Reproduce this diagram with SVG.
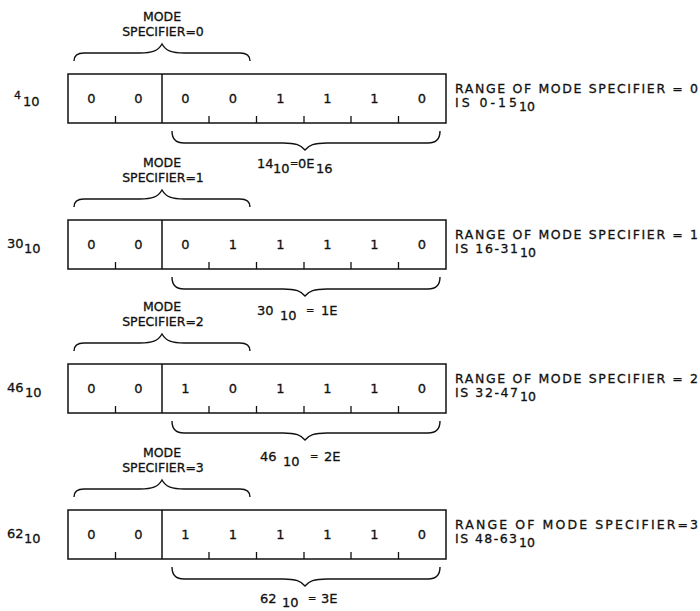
<svg xmlns="http://www.w3.org/2000/svg" xmlns:xlink="http://www.w3.org/1999/xlink" width="700" height="611" viewBox="0 0 700 611">
<style>
.box{fill:none;stroke:#111;stroke-width:1.5}
.tick{stroke:#111;stroke-width:1.3}
.brace{fill:none;stroke:#111;stroke-width:1.4}
text{font-family:"DejaVu Sans","Liberation Sans",sans-serif;fill:#111;stroke:#111;stroke-width:0.3}
.d{font-size:13px;text-anchor:middle}
.l{font-size:13px}
.r{font-size:12.5px}
.m{font-size:12.5px;text-anchor:middle}
.eq{font-size:10px}
</style>
<defs>
<g id="frame">
<rect class="box" x="68" y="0" width="378" height="49"/>
<line class="box" x1="162" y1="0" x2="162" y2="49"/>
<path class="tick" d="M115.5,42V49M209,42V49M256.5,42V49M304,42V49M351,42V49M398.5,42V49"/>
</g>
<path id="topBrace" class="brace" d="M74,-13 Q74,-21 84,-21 L140,-21 C152,-21 158,-23 162,-30 C166,-23 172,-21 184,-21 L240,-21 Q250,-21 250,-13"/>
<path id="botBrace" class="brace" d="M172,8 Q172,20 184,20 L283,20 C296,20 301,22 305,27 C309,22 314,20 327,20 L428,20 Q440,20 440,8"/>
</defs>
<rect width="700" height="611" fill="#fff"/>

<g id="connectors">
<use xlink:href="#topBrace" transform="translate(0,74)"/>
<use xlink:href="#botBrace" transform="translate(0,123)"/>
<use xlink:href="#topBrace" transform="translate(0,220)"/>
<use xlink:href="#botBrace" transform="translate(0,269)"/>
<use xlink:href="#topBrace" transform="translate(0,364)"/>
<use xlink:href="#botBrace" transform="translate(0,413)"/>
<use xlink:href="#topBrace" transform="translate(0,510)"/>
<use xlink:href="#botBrace" transform="translate(0,559)"/>
</g>

<g id="row1">
<use xlink:href="#frame" transform="translate(0,74)"/>
<text class="l" x="14" y="99" style="font-size:11px">4</text>
<text class="l" x="23" y="106">10</text>
<text class="m" x="162" y="21">MODE</text>
<text class="m" x="163" y="36">SPECIFIER=0</text>
<g class="d">
<text x="91.5" y="103">0</text><text x="138.5" y="103">0</text>
<text x="185.5" y="103">0</text><text x="233" y="103">0</text><text x="280.5" y="103">1</text>
<text x="327.5" y="103">1</text><text x="374.5" y="103">1</text><text x="422" y="103">0</text>
</g>
<text class="r" x="455" y="93" textLength="243" lengthAdjust="spacing">RANGE OF MODE SPECIFIER = 0</text>
<text class="r" x="455" y="107" textLength="62" lengthAdjust="spacing">IS 0-15</text>
<text class="r" x="519" y="111">10</text>
<text class="l" x="257" y="168">14</text>
<text class="l" x="273" y="173">10</text>
<text class="l eq" x="290" y="167">=</text>
<text class="l" x="298" y="168">0E</text>
<text class="l" x="316" y="173">16</text>
</g>

<g id="row2">
<use xlink:href="#frame" transform="translate(0,220)"/>
<text class="l" x="7" y="248">30</text>
<text class="l" x="24" y="253">10</text>
<text class="m" x="162" y="167">MODE</text>
<text class="m" x="163" y="182">SPECIFIER=1</text>
<g class="d">
<text x="91.5" y="249">0</text><text x="138.5" y="249">0</text>
<text x="185.5" y="249">0</text><text x="233" y="249">1</text><text x="280.5" y="249">1</text>
<text x="327.5" y="249">1</text><text x="374.5" y="249">1</text><text x="422" y="249">0</text>
</g>
<text class="r" x="455" y="239" textLength="243" lengthAdjust="spacing">RANGE OF MODE  SPECIFIER = 1</text>
<text class="r" x="455" y="253" textLength="63" lengthAdjust="spacing">IS 16-31</text>
<text class="r" x="520" y="257">10</text>
<text class="l" x="257" y="315">30</text>
<text class="l" x="280" y="320">10</text>
<text class="l eq" x="306" y="314">=</text>
<text class="l" x="321" y="315">1E</text>
</g>

<g id="row3">
<use xlink:href="#frame" transform="translate(0,364)"/>
<text class="l" x="7" y="392">46</text>
<text class="l" x="25" y="397">10</text>
<text class="m" x="162" y="311">MODE</text>
<text class="m" x="163" y="326">SPECIFIER=2</text>
<g class="d">
<text x="91.5" y="393">0</text><text x="138.5" y="393">0</text>
<text x="185.5" y="393">1</text><text x="233" y="393">0</text><text x="280.5" y="393">1</text>
<text x="327.5" y="393">1</text><text x="374.5" y="393">1</text><text x="422" y="393">0</text>
</g>
<text class="r" x="455" y="383" textLength="243" lengthAdjust="spacing">RANGE OF MODE  SPECIFIER = 2</text>
<text class="r" x="455" y="397" textLength="63" lengthAdjust="spacing">IS 32-47</text>
<text class="r" x="520" y="401">10</text>
<text class="l" x="260" y="461">46</text>
<text class="l" x="283" y="466">10</text>
<text class="l eq" x="310" y="460">=</text>
<text class="l" x="324" y="461">2E</text>
</g>

<g id="row4">
<use xlink:href="#frame" transform="translate(0,510)"/>
<text class="l" x="7" y="538">62</text>
<text class="l" x="24" y="543">10</text>
<text class="m" x="162" y="457">MODE</text>
<text class="m" x="163" y="472">SPECIFIER=3</text>
<g class="d">
<text x="91.5" y="539">0</text><text x="138.5" y="539">0</text>
<text x="185.5" y="539">1</text><text x="233" y="539">1</text><text x="280.5" y="539">1</text>
<text x="327.5" y="539">1</text><text x="374.5" y="539">1</text><text x="422" y="539">0</text>
</g>
<text class="r" x="455" y="529" textLength="243" lengthAdjust="spacing">RANGE OF MODE SPECIFIER=3</text>
<text class="r" x="455" y="543" textLength="62" lengthAdjust="spacing">IS 48-63</text>
<text class="r" x="519" y="547">10</text>
<text class="l" x="260" y="603">62</text>
<text class="l" x="282" y="607">10</text>
<text class="l eq" x="308" y="602">=</text>
<text class="l" x="321" y="603">3E</text>
</g>
</svg>
